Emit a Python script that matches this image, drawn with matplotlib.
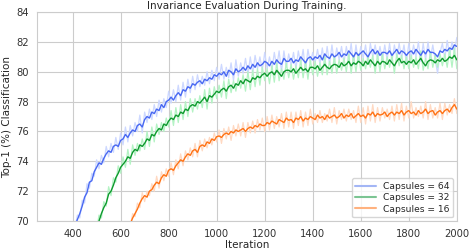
import numpy as np
import matplotlib
matplotlib.use("Agg")
import matplotlib.pyplot as plt
import seaborn as sns
from matplotlib.lines import Line2D

sns.set_style("whitegrid")
plt.rcParams['font.family'] = ['DejaVu Sans']

title = "Invariance Evaluation During Training."
labels = ["Capsules = 64", "Capsules = 32", "Capsules = 16"]
step = 10
start64, start32, start16 = 410, 500, 640
end_iter = 2000

cap64_smooth = [
    69.7, 70.1, 70.5, 71.0, 71.6, 71.9, 72.6, 72.7, 73.3, 73.6,
    73.9, 73.8, 74.2, 74.5, 74.7, 74.6, 75.0, 75.1, 75.0, 75.4,
    75.5, 75.8, 75.6, 75.9, 76.1, 76.0, 76.4, 76.5, 76.3, 76.8,
    77.0, 76.9, 77.3, 77.2, 77.5, 77.4, 77.8, 77.6, 78.0, 78.1,
    78.3, 78.1, 78.4, 78.6, 78.4, 78.8, 78.7, 79.0, 78.9, 79.2,
    79.1, 79.3, 79.4, 79.2, 79.5, 79.4, 79.6, 79.5, 79.8, 79.7,
    79.9, 79.8, 80.0, 79.7, 80.1, 80.0, 79.8, 80.2, 80.0, 80.1,
    80.3, 80.1, 80.4, 80.2, 80.5, 80.3, 80.6, 80.4, 80.5, 80.7,
    80.6, 80.4, 80.7, 80.5, 80.8, 80.6, 80.5, 80.9, 80.7, 80.7,
    80.9, 80.6, 80.8, 80.7, 81.0, 80.8, 80.6, 80.9, 81.0, 80.8,
    81.0, 80.9, 81.1, 80.8, 81.2, 81.0, 80.9, 81.2, 81.0, 81.1,
    81.3, 81.0, 81.2, 81.1, 81.4, 81.2, 81.0, 81.3, 81.1, 81.25,
    81.4, 81.2, 81.0, 81.3, 81.5, 81.2, 81.4, 81.1, 81.3, 81.3,
    81.2, 81.4, 81.1, 81.3, 81.5, 81.2, 81.4, 81.3, 81.1, 81.3,
    81.4, 81.2, 81.5, 81.3, 81.1, 81.4, 81.2, 81.5, 81.3, 81.3,
    81.2, 81.0, 81.4, 81.3, 81.5, 81.4, 81.6, 81.5, 81.8, 81.7,
]
cap64_raw = [
    69.5, 70.4, 70.2, 71.4, 71.2, 72.5, 72.2, 73.2, 73.0, 74.1,
    73.5, 74.4, 73.9, 75.0, 74.3, 75.2, 74.6, 75.6, 74.8, 75.9,
    75.1, 76.3, 75.3, 76.4, 75.7, 76.6, 76.0, 77.1, 75.9, 77.3,
    76.6, 77.5, 76.8, 77.8, 77.0, 78.1, 77.3, 78.2, 77.6, 78.7,
    77.9, 78.8, 78.0, 79.1, 78.1, 79.3, 78.3, 79.5, 78.6, 79.7,
    78.8, 79.8, 79.0, 79.7, 79.1, 80.0, 79.2, 80.1, 79.4, 80.3,
    79.5, 80.5, 79.5, 80.3, 79.6, 80.6, 79.4, 80.8, 79.7, 80.6,
    79.9, 80.9, 79.8, 81.0, 79.9, 81.1, 80.2, 81.0, 80.1, 81.3,
    80.2, 81.0, 80.1, 81.3, 80.3, 81.4, 80.0, 81.4, 80.3, 81.2,
    80.4, 81.3, 80.2, 81.4, 80.5, 81.5, 80.1, 81.5, 80.6, 81.3,
    80.6, 81.5, 80.5, 81.6, 80.4, 81.7, 80.5, 81.8, 80.6, 81.6,
    80.8, 81.7, 80.6, 81.7, 80.8, 81.9, 80.5, 81.8, 80.7, 81.7,
    80.9, 81.8, 80.6, 81.9, 81.0, 81.8, 80.9, 81.7, 80.8, 81.8,
    80.8, 81.9, 80.7, 81.8, 81.0, 81.9, 80.9, 81.8, 80.6, 81.9,
    80.9, 81.8, 81.0, 82.0, 80.7, 81.9, 80.8, 82.0, 80.9, 81.8,
    80.8, 79.9, 81.3, 81.9, 80.9, 82.1, 81.1, 82.0, 81.3, 82.3,
]

cap32_smooth = [
    69.6, 70.0, 70.5, 70.9, 71.2, 71.8, 72.0, 72.4, 72.9, 73.2,
    73.6, 73.8, 74.0, 74.3, 74.2, 74.6, 74.8, 74.7, 75.1, 75.0,
    75.2, 75.5, 75.4, 75.8, 75.7, 76.0, 76.2, 76.1, 76.5, 76.4,
    76.7, 76.9, 76.8, 77.1, 77.0, 77.3, 77.2, 77.5, 77.4, 77.7,
    77.8, 77.7, 78.0, 77.9, 78.1, 78.3, 78.0, 78.4, 78.3, 78.5,
    78.7, 78.6, 78.8, 78.9, 78.7, 79.0, 79.1, 78.9, 79.2, 79.1,
    79.4, 79.2, 79.5, 79.4, 79.3, 79.6, 79.5, 79.7, 79.6, 79.8,
    79.9, 79.7, 79.9, 80.0, 79.8, 80.1, 79.9, 79.7, 80.0, 80.1,
    80.1, 80.0, 80.2, 79.9, 80.1, 80.3, 80.1, 80.2, 80.0, 80.3,
    80.3, 80.2, 80.4, 80.1, 80.3, 80.5, 80.3, 80.2, 80.4, 80.5,
    80.45, 80.3, 80.6, 80.4, 80.5, 80.7, 80.4, 80.6, 80.5, 80.7,
    80.6, 80.4, 80.7, 80.5, 80.8, 80.6, 80.4, 80.7, 80.5, 80.7,
    80.65, 80.5, 80.8, 80.6, 80.4, 80.7, 80.9, 80.6, 80.7, 80.5,
    80.7, 80.6, 80.8, 80.5, 80.7, 80.9, 80.6, 80.4, 80.7, 80.8,
    80.75, 80.6, 80.8, 80.7, 80.9, 80.7, 80.8, 81.0, 80.9, 81.1,
    80.8,
]
cap32_raw = [
    69.4, 70.4, 70.2, 71.3, 71.0, 72.3, 71.7, 72.9, 72.6, 73.7,
    73.2, 74.3, 73.6, 74.8, 73.8, 75.1, 74.4, 75.2, 74.7, 75.5,
    74.8, 76.0, 75.0, 76.3, 75.3, 76.5, 75.8, 76.6, 76.0, 76.9,
    76.3, 77.4, 76.4, 77.6, 76.6, 77.8, 76.8, 78.0, 77.0, 78.2,
    77.3, 78.2, 77.5, 78.4, 77.6, 78.8, 77.5, 78.9, 77.9, 79.0,
    78.2, 79.1, 78.3, 79.4, 78.2, 79.5, 78.6, 79.4, 78.7, 79.6,
    78.9, 79.8, 78.7, 80.0, 78.8, 80.1, 79.0, 80.2, 79.1, 80.3,
    79.4, 80.2, 79.2, 80.4, 79.3, 80.6, 79.4, 80.2, 79.5, 80.6,
    79.6, 80.5, 79.5, 80.4, 79.6, 80.8, 79.6, 80.7, 79.5, 80.8,
    79.8, 80.7, 79.7, 80.6, 79.8, 81.0, 79.8, 80.7, 79.9, 81.0,
    79.9, 80.8, 80.1, 80.9, 80.0, 81.2, 79.9, 81.1, 80.0, 81.2,
    80.1, 80.9, 80.2, 81.0, 80.3, 81.1, 79.9, 81.2, 80.0, 81.2,
    80.2, 81.0, 80.3, 81.1, 79.9, 81.2, 80.4, 81.1, 80.2, 81.0,
    80.2, 81.1, 80.3, 81.0, 80.2, 81.4, 80.1, 80.9, 80.2, 81.3,
    80.3, 81.1, 80.3, 81.2, 80.4, 81.2, 80.3, 81.5, 80.3, 81.6,
    80.2,
]

cap16_smooth = [
    69.8, 70.2, 70.5, 70.8, 71.2, 71.5, 71.7, 71.6, 72.0, 72.1,
    72.4, 72.6, 72.5, 72.9, 73.1, 73.0, 73.4, 73.5, 73.4, 73.7,
    73.9, 74.1, 74.0, 74.3, 74.5, 74.4, 74.7, 74.8, 74.6, 75.0,
    75.1, 75.0, 75.3, 75.2, 75.5, 75.4, 75.65, 75.7, 75.6, 75.8,
    75.9, 75.8, 76.0, 75.9, 76.1, 76.0, 76.1, 76.2, 76.0, 76.2,
    76.3, 76.2, 76.4, 76.3, 76.5, 76.4, 76.4, 76.6, 76.5, 76.7,
    76.6, 76.5, 76.8, 76.7, 76.6, 76.9, 76.75, 76.8, 76.6, 76.9,
    76.8, 77.0, 76.7, 76.9, 76.8, 77.0, 76.9, 76.8, 77.1, 76.9,
    77.0, 76.8, 77.1, 76.9, 77.0, 77.1, 76.9, 77.0, 77.2, 76.9,
    77.1, 77.0, 77.2, 76.9, 77.05, 77.2, 77.0, 77.1, 76.9, 77.2,
    77.1, 77.3, 77.0, 77.2, 77.1, 77.15, 77.3, 77.0, 77.2, 77.3,
    77.1, 77.3, 77.2, 77.4, 77.1, 77.3, 77.4, 77.2, 77.3, 77.1,
    77.4, 77.2, 77.3, 77.5, 77.2, 77.35, 77.4, 77.1, 77.3, 77.4,
    77.2, 77.4, 77.5, 77.3, 77.6, 77.8, 77.5,
]
cap16_raw = [
    69.6, 70.5, 70.3, 71.2, 70.9, 71.9, 71.3, 72.0, 71.7, 72.5,
    72.0, 73.0, 72.2, 73.3, 72.7, 73.5, 73.0, 73.9, 73.1, 74.1,
    73.5, 74.5, 73.7, 74.7, 74.1, 74.9, 74.3, 75.2, 74.3, 75.4,
    74.7, 75.5, 74.9, 75.6, 75.1, 75.9, 75.3, 76.1, 75.2, 76.2,
    75.5, 76.3, 75.4, 76.4, 75.7, 76.5, 75.7, 76.6, 75.6, 76.6,
    75.9, 76.7, 75.9, 76.8, 76.1, 76.9, 76.0, 77.0, 76.1, 77.1,
    76.2, 77.0, 76.3, 77.2, 76.2, 77.3, 76.3, 77.3, 76.2, 77.3,
    76.4, 77.4, 76.3, 77.3, 76.4, 77.5, 76.5, 77.2, 76.6, 77.4,
    76.6, 77.2, 76.7, 77.5, 76.6, 77.6, 76.5, 77.4, 76.8, 77.5,
    76.7, 77.5, 76.8, 77.4, 76.6, 77.7, 76.6, 77.6, 76.5, 77.7,
    76.7, 77.8, 76.6, 77.6, 76.7, 77.6, 76.9, 77.5, 76.8, 77.7,
    76.7, 77.8, 76.8, 77.9, 76.7, 77.7, 76.9, 78.0, 76.9, 77.6,
    77.0, 77.7, 76.9, 78.0, 76.8, 77.8, 76.9, 77.6, 76.9, 77.9,
    76.8, 77.9, 77.1, 77.8, 77.2, 78.2, 77.2,
]

dark_colors = ["#4868f2", "#0e9a2e", "#ff7214"]
light_colors = ["#cdd8ff", "#b4f3c4", "#ffd9c2"]
legend_colors = ["#a3b6f5", "#7cc593", "#ffb27f"]

fig = plt.figure(figsize=(4.69, 2.52), dpi=100)
ax = fig.add_axes([0.078, 0.123, 0.896, 0.829])

series = [(start64, cap64_raw, cap64_smooth),
          (start32, cap32_raw, cap32_smooth),
          (start16, cap16_raw, cap16_smooth)]
for (s, raw, sm), dc, lc in zip(series, dark_colors, light_colors):
    x = np.arange(s, end_iter + 1, step)
    ax.plot(x, raw, color=lc, lw=0.9, zorder=2)
for (s, raw, sm), dc, lc in zip(series, dark_colors, light_colors):
    x = np.arange(s, end_iter + 1, step)
    ax.plot(x, sm, color=dc, lw=1.0, zorder=3)

ax.set_xlim(250, 2000)
ax.set_ylim(70, 84)
ax.set_xticks(np.arange(400, 2001, 200))
ax.set_yticks(np.arange(70, 85, 2))
ax.tick_params(labelsize=7.2, colors="#333333", pad=2)
ax.set_xlabel("Iteration", fontsize=7.5, color="#262626", labelpad=1)
ax.set_ylabel("Top-1 (%) Classification", fontsize=7.5, color="#262626", labelpad=3)
ax.set_title(title, fontsize=7.5, color="#262626", pad=2)
for sp in ax.spines.values():
    sp.set_color("#cccccc")

handles = [Line2D([0], [0], color=c, lw=1.5) for c in legend_colors]
ax.legend(handles, labels, loc="lower right", fontsize=6.6, frameon=True,
          handlelength=2.2, borderpad=0.4, labelspacing=0.25,
          borderaxespad=0.4)

fig.savefig("out.png", dpi=100)
